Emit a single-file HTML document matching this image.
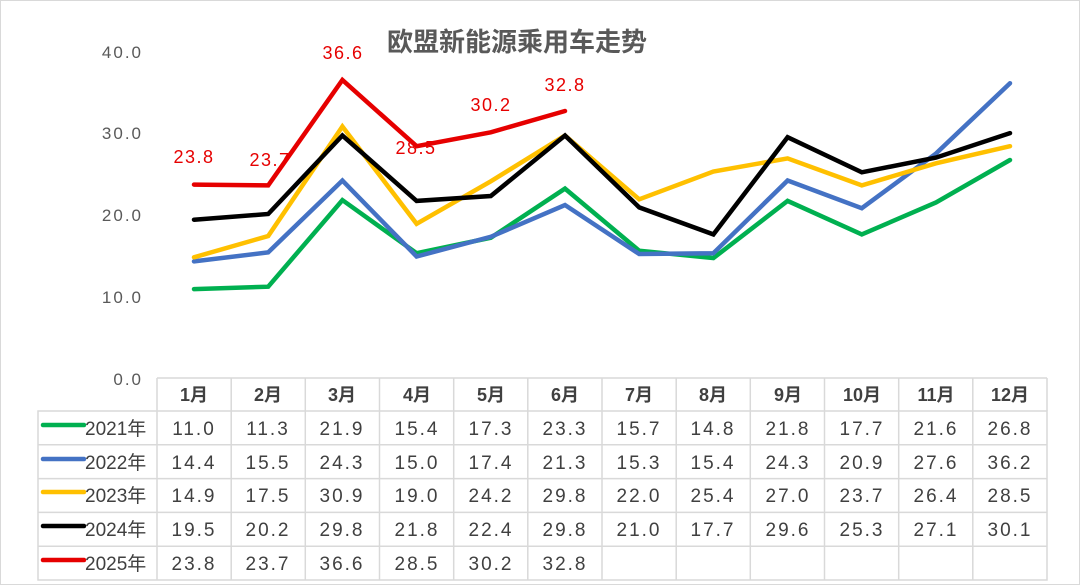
<!DOCTYPE html>
<html><head><meta charset="utf-8"><style>
html,body{margin:0;padding:0;background:#fff}
svg{display:block}
text{font-family:"Liberation Sans","Noto Sans CJK SC",sans-serif}
</style></head><body>
<svg width="1080" height="585" viewBox="0 0 1080 585" xmlns="http://www.w3.org/2000/svg">
<rect x="0.5" y="0.5" width="1079" height="584" fill="#fff" stroke="#d9d9d9"/>
<text x="517" y="51" text-anchor="middle" font-size="26" font-weight="bold" fill="#595959" style="font-family:'Noto Sans CJK SC',sans-serif">欧盟新能源乘用车走势</text>
<g font-size="17" fill="#595959" text-anchor="end" letter-spacing="2">
<text x="143" y="58">40.0</text>
<text x="143" y="139">30.0</text>
<text x="143" y="221">20.0</text>
<text x="143" y="303">10.0</text>
<text x="143" y="385">0.0</text>
</g>
<g fill="none" stroke-width="4.5" stroke-linejoin="miter" stroke-linecap="round">
<polyline stroke="#00b050" points="194,289.1 268.2,286.7 342.4,200.1 416.6,253.2 490.8,237.7 565,188.6 639.2,250.7 713.4,258.1 787.6,200.9 861.8,234.4 936,202.5 1010,160"/>
<polyline stroke="#4472c4" points="194,261.4 268.2,252.4 342.4,180.5 416.6,256.5 490.8,236.8 565,205 639.2,254 713.4,253.2 787.6,180.5 861.8,208.2 936,153.5 1010,83.2"/>
<polyline stroke="#ffc000" points="194,257.3 268.2,236 342.4,126.5 416.6,223.8 490.8,181.3 565,135.5 639.2,199.3 713.4,171.5 787.6,158.4 861.8,185.4 936,163.3 1010,146.2"/>
<polyline stroke="#000" points="194,219.7 268.2,214 342.4,135.5 416.6,200.9 490.8,196 565,135.5 639.2,207.4 713.4,234.4 787.6,137.2 861.8,172.3 936,157.6 1010,133.1"/>
<polyline stroke="#e60000" points="194,184.6 268.2,185.4 342.4,80 416.6,146.2 490.8,132.3 565,111"/>
</g>
<g font-size="18" fill="#e60000" text-anchor="middle" letter-spacing="1.5">
<text x="194" y="163">23.8</text>
<text x="270" y="166">23.7</text>
<text x="343" y="59">36.6</text>
<text x="416" y="154">28.5</text>
<text x="491" y="111">30.2</text>
<text x="565" y="91">32.8</text>
</g>
<g stroke="#d9d9d9" stroke-width="1.5" fill="none">
<rect x="38" y="411" width="1009" height="169"/>
<line x1="157" y1="378" x2="1047" y2="378"/>
<line x1="157" y1="378" x2="157" y2="580"/>
<line x1="1047" y1="378" x2="1047" y2="411"/>
<line x1="38" y1="444.8" x2="1047" y2="444.8"/>
<line x1="38" y1="478.6" x2="1047" y2="478.6"/>
<line x1="38" y1="512.4" x2="1047" y2="512.4"/>
<line x1="38" y1="546.2" x2="1047" y2="546.2"/>
<line x1="231.2" y1="378" x2="231.2" y2="580"/>
<line x1="305.3" y1="378" x2="305.3" y2="580"/>
<line x1="379.5" y1="378" x2="379.5" y2="580"/>
<line x1="453.7" y1="378" x2="453.7" y2="580"/>
<line x1="527.8" y1="378" x2="527.8" y2="580"/>
<line x1="602" y1="378" x2="602" y2="580"/>
<line x1="676.2" y1="378" x2="676.2" y2="580"/>
<line x1="750.3" y1="378" x2="750.3" y2="580"/>
<line x1="824.5" y1="378" x2="824.5" y2="580"/>
<line x1="898.7" y1="378" x2="898.7" y2="580"/>
<line x1="972.8" y1="378" x2="972.8" y2="580"/>
</g>
<g stroke-width="4.5" stroke-linecap="round">
<line x1="43" y1="425" x2="84" y2="425" stroke="#00b050"/>
<line x1="43" y1="459" x2="84" y2="459" stroke="#4472c4"/>
<line x1="43" y1="492" x2="84" y2="492" stroke="#ffc000"/>
<line x1="43" y1="526" x2="84" y2="526" stroke="#000"/>
<line x1="43" y1="560" x2="84" y2="560" stroke="#e60000"/>
</g>
<g font-size="19" fill="#404040">
<text x="85" y="435">2021年</text>
<text x="85" y="469">2022年</text>
<text x="85" y="502">2023年</text>
<text x="85" y="536">2024年</text>
<text x="85" y="570">2025年</text>
</g>
<g font-size="18" fill="#404040" text-anchor="middle" font-weight="bold">
<text x="194" y="401">1月</text><text x="268" y="401">2月</text><text x="342" y="401">3月</text><text x="417" y="401">4月</text><text x="491" y="401">5月</text><text x="565" y="401">6月</text><text x="639" y="401">7月</text><text x="713" y="401">8月</text><text x="788" y="401">9月</text><text x="862" y="401">10月</text><text x="936" y="401">11月</text><text x="1010" y="401">12月</text>
</g>
<g font-size="19" fill="#404040" text-anchor="middle" letter-spacing="2">
<text x="194" y="435">11.0</text><text x="268" y="435">11.3</text><text x="342" y="435">21.9</text><text x="417" y="435">15.4</text><text x="491" y="435">17.3</text><text x="565" y="435">23.3</text><text x="639" y="435">15.7</text><text x="713" y="435">14.8</text><text x="788" y="435">21.8</text><text x="862" y="435">17.7</text><text x="936" y="435">21.6</text><text x="1010" y="435">26.8</text>
<text x="194" y="469">14.4</text><text x="268" y="469">15.5</text><text x="342" y="469">24.3</text><text x="417" y="469">15.0</text><text x="491" y="469">17.4</text><text x="565" y="469">21.3</text><text x="639" y="469">15.3</text><text x="713" y="469">15.4</text><text x="788" y="469">24.3</text><text x="862" y="469">20.9</text><text x="936" y="469">27.6</text><text x="1010" y="469">36.2</text>
<text x="194" y="502">14.9</text><text x="268" y="502">17.5</text><text x="342" y="502">30.9</text><text x="417" y="502">19.0</text><text x="491" y="502">24.2</text><text x="565" y="502">29.8</text><text x="639" y="502">22.0</text><text x="713" y="502">25.4</text><text x="788" y="502">27.0</text><text x="862" y="502">23.7</text><text x="936" y="502">26.4</text><text x="1010" y="502">28.5</text>
<text x="194" y="536">19.5</text><text x="268" y="536">20.2</text><text x="342" y="536">29.8</text><text x="417" y="536">21.8</text><text x="491" y="536">22.4</text><text x="565" y="536">29.8</text><text x="639" y="536">21.0</text><text x="713" y="536">17.7</text><text x="788" y="536">29.6</text><text x="862" y="536">25.3</text><text x="936" y="536">27.1</text><text x="1010" y="536">30.1</text>
<text x="194" y="570">23.8</text><text x="268" y="570">23.7</text><text x="342" y="570">36.6</text><text x="417" y="570">28.5</text><text x="491" y="570">30.2</text><text x="565" y="570">32.8</text>
</g>
</svg>
</body></html>
